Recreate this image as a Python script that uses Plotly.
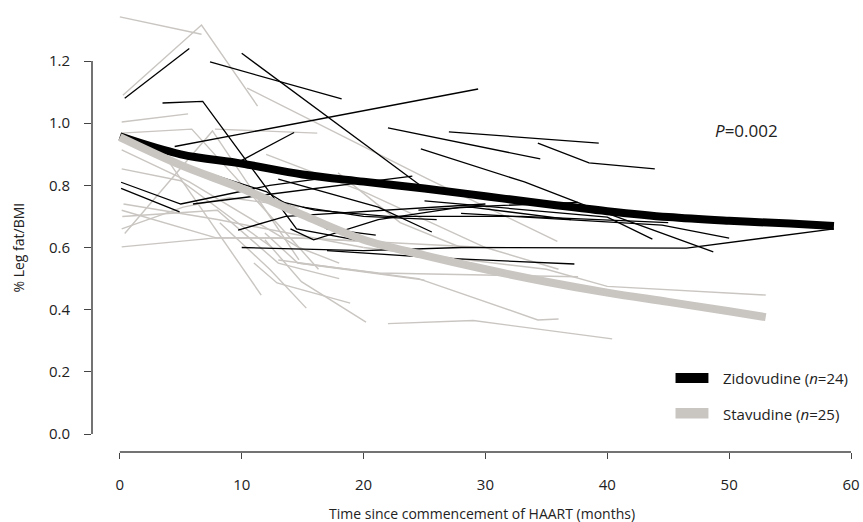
import plotly.graph_objects as go

# ---------------- data (months, % leg fat / BMI) ----------------
zido_subjects = [
    [(0.4, 1.08), (5.7, 1.24)],
    [(10.0, 1.225), (25.0, 0.79)],
    [(7.4, 1.197), (18.2, 1.078)],
    [(3.5, 1.065), (6.8, 1.07), (14.5, 0.66), (20.0, 0.62)],
    [(4.5, 0.925), (29.4, 1.11)],
    [(9.5, 0.87), (14.3, 0.97)],
    [(22.0, 0.985), (34.5, 0.885)],
    [(27.0, 0.972), (39.3, 0.936)],
    [(34.3, 0.936), (38.5, 0.872), (43.9, 0.853)],
    [(24.7, 0.917), (33.2, 0.811), (38.3, 0.734), (48.7, 0.586)],
    [(10.0, 0.60), (20.0, 0.59), (28.0, 0.60), (46.5, 0.598), (58.6, 0.66)],
    [(17.0, 0.59), (26.4, 0.566), (37.3, 0.547)],
    [(0.1, 0.81), (5.0, 0.74), (12.3, 0.80), (18.0, 0.83)],
    [(0.1, 0.79), (4.9, 0.715)],
    [(6.0, 0.74), (24.0, 0.83)],
    [(9.7, 0.656), (13.6, 0.70), (30.0, 0.74)],
    [(13.0, 0.82), (21.2, 0.73), (25.6, 0.65)],
    [(14.0, 0.66), (15.9, 0.625), (21.2, 0.69), (28.0, 0.73), (37.6, 0.745)],
    [(28.0, 0.71), (44.5, 0.672), (50.0, 0.63)],
    [(25.0, 0.75), (40.0, 0.698), (43.7, 0.627)],
    [(24.5, 0.72), (28.8, 0.73), (37.0, 0.69)],
    [(12.0, 0.76), (16.0, 0.72), (22.0, 0.70), (33.0, 0.70), (45.0, 0.68)],
    [(8.0, 0.83), (12.0, 0.78), (17.0, 0.66), (21.0, 0.64)],
    [(15.0, 0.73), (20.0, 0.70), (26.0, 0.69)],
]

stav_subjects = [
    [(0.0, 1.342), (6.7, 1.286)],
    [(0.25, 1.09), (6.7, 1.316), (11.3, 1.055)],
    [(10.45, 1.113), (25.3, 0.82), (35.9, 0.62)],
    [(0.15, 1.004), (5.6, 1.03)],
    [(0.1, 0.968), (5.9, 0.981), (14.7, 0.60), (16.3, 0.53)],
    [(7.8, 0.981), (16.2, 0.968)],
    [(0.15, 0.914), (5.7, 0.811), (14.7, 0.60), (18.0, 0.55)],
    [(0.4, 0.645), (7.6, 0.975), (14.7, 0.56)],
    [(0.15, 0.602), (7.9, 0.631), (15.0, 0.63), (30.0, 0.60)],
    [(0.15, 0.66), (5.2, 0.73), (9.0, 0.76), (14.7, 0.73)],
    [(0.15, 0.72), (6.3, 0.65), (7.9, 0.631), (14.7, 0.631), (20.0, 0.62)],
    [(0.15, 0.853), (5.0, 0.815), (10.0, 0.67), (12.5, 0.60)],
    [(0.2, 0.70), (8.0, 0.72), (13.0, 0.55), (18.0, 0.50)],
    [(3.6, 0.90), (11.6, 0.447)],
    [(8.2, 0.68), (12.3, 0.53), (15.3, 0.405)],
    [(11.0, 0.55), (12.9, 0.486), (18.9, 0.421)],
    [(11.9, 0.625), (14.9, 0.49), (20.2, 0.36)],
    [(11.9, 0.647), (14.6, 0.55), (25.0, 0.495)],
    [(22.0, 0.355), (29.0, 0.365), (40.4, 0.306)],
    [(13.0, 0.56), (24.5, 0.50), (34.3, 0.367), (36.0, 0.37)],
    [(14.6, 0.55), (21.2, 0.518), (37.6, 0.506)],
    [(20.0, 0.60), (35.0, 0.53), (40.0, 0.475), (53.0, 0.447)],
    [(12.0, 0.90), (20.0, 0.78), (25.0, 0.69), (30.0, 0.60), (36.0, 0.53)],
    [(0.3, 0.74), (8.0, 0.69), (20.0, 0.60)],
    [(17.9, 0.84), (23.0, 0.68), (28.0, 0.60)],
]

zido_mean_months = [0, 5, 10, 15, 20, 25, 30, 35, 40, 45, 50, 55, 58.6]
zido_mean_values = [0.958, 0.90, 0.87, 0.835, 0.812, 0.79, 0.765, 0.74, 0.717, 0.698, 0.686, 0.677, 0.669]

stav_mean_months = [0, 5, 10, 15, 20, 25, 30, 35, 40, 45, 50, 53]
stav_mean_values = [0.955, 0.865, 0.79, 0.705, 0.625, 0.575, 0.53, 0.49, 0.455, 0.425, 0.395, 0.376]

x_ticks = [0, 10, 20, 30, 40, 50, 60]
y_ticks = [0.0, 0.2, 0.4, 0.6, 0.8, 1.0, 1.2]
y_tick_labels = ["0.0", "0.2", "0.4", "0.6", "0.8", "1.0", "1.2"]

legend_labels = ["Zidovudine (<i>n</i>=24)", "Stavudine (<i>n</i>=25)"]
p_text = "<i>P</i>=0.002"

# ---------------- styling ----------------
BLACK = "#000000"
GREY = "#c9c5c1"
AXIS = "#444444"
TXT = "#222222"
FONT = "Open Sans"

fig = go.Figure()

for s in stav_subjects:
    fig.add_trace(go.Scatter(x=[p[0] for p in s], y=[p[1] for p in s], mode="lines",
                             line=dict(color=GREY, width=1.4), showlegend=False, hoverinfo="skip"))
for s in zido_subjects:
    fig.add_trace(go.Scatter(x=[p[0] for p in s], y=[p[1] for p in s], mode="lines",
                             line=dict(color=BLACK, width=1.3), showlegend=False, hoverinfo="skip"))

fig.add_trace(go.Scatter(x=zido_mean_months, y=zido_mean_values, mode="lines",
                         line=dict(color=BLACK, width=8, shape="spline"), showlegend=False))
fig.add_trace(go.Scatter(x=stav_mean_months, y=stav_mean_values, mode="lines",
                         line=dict(color=GREY, width=8, shape="spline"), showlegend=False))

x_lo, x_hi = -2.286, 60.41
y_lo, y_hi = -0.0579, 1.3835

fig.update_layout(
    width=863, height=522,
    margin=dict(l=92, r=3, t=4, b=70),
    paper_bgcolor="white", plot_bgcolor="white",
    font=dict(family=FONT, size=14, color=TXT),
    xaxis=dict(range=[x_lo, x_hi], tickvals=x_ticks, ticks="outside", ticklen=6,
               tickwidth=1.3, tickcolor=AXIS, showgrid=False, zeroline=False,
               showline=False, ticklabelstandoff=13, ticklabeloverflow="allow",
               tickfont=dict(size=15, color=TXT)),
    yaxis=dict(range=[y_lo, y_hi], tickvals=y_ticks, ticktext=y_tick_labels,
               ticks="outside", ticklen=7, tickwidth=1.3, tickcolor=AXIS,
               showgrid=False, zeroline=False, showline=False,
               ticklabelstandoff=11, tickfont=dict(size=15, color=TXT)),
    showlegend=False,
)

# axis lines spanning only the tick range
fig.add_shape(type="line", xref="x", yref="paper", x0=0, x1=60, y0=0, y1=0,
              line=dict(color=AXIS, width=1.5))
fig.add_shape(type="line", xref="paper", yref="y", x0=0, x1=0, y0=0, y1=1.2,
              line=dict(color=AXIS, width=1.5))

# legend swatches
fig.add_shape(type="rect", xref="x", yref="y", x0=45.6, x1=48.3, y0=0.164, y1=0.196,
              line=dict(width=0), fillcolor=BLACK)
fig.add_shape(type="rect", xref="x", yref="y", x0=45.6, x1=48.3, y0=0.050, y1=0.084,
              line=dict(width=0), fillcolor=GREY)
fig.add_annotation(x=49.3, y=0.180, xref="x", yref="y", text=legend_labels[0],
                   showarrow=False, xanchor="left", yanchor="middle", font=dict(size=15, color=TXT))
fig.add_annotation(x=49.3, y=0.064, xref="x", yref="y", text=legend_labels[1],
                   showarrow=False, xanchor="left", yanchor="middle", font=dict(size=15, color=TXT))

fig.add_annotation(x=48.7, y=0.975, xref="x", yref="y", text=p_text, showarrow=False,
                   xanchor="left", yanchor="middle", font=dict(size=17, color=TXT))

# axis titles
fig.add_annotation(x=29.7, y=0, xref="x", yref="paper", yshift=-61,
                   text="Time since commencement of HAART (months)", showarrow=False,
                   xanchor="center", yanchor="middle", font=dict(size=14, color=TXT))
fig.add_annotation(x=0, y=0.6, xref="paper", yref="y", xshift=-73,
                   text="% Leg fat/BMI", textangle=-90, showarrow=False,
                   xanchor="center", yanchor="middle", font=dict(size=14, color=TXT))

fig.write_html("out.html", config={"displayModeBar": False},
               post_script="document.body.style.margin='0';document.body.style.padding='0';")
